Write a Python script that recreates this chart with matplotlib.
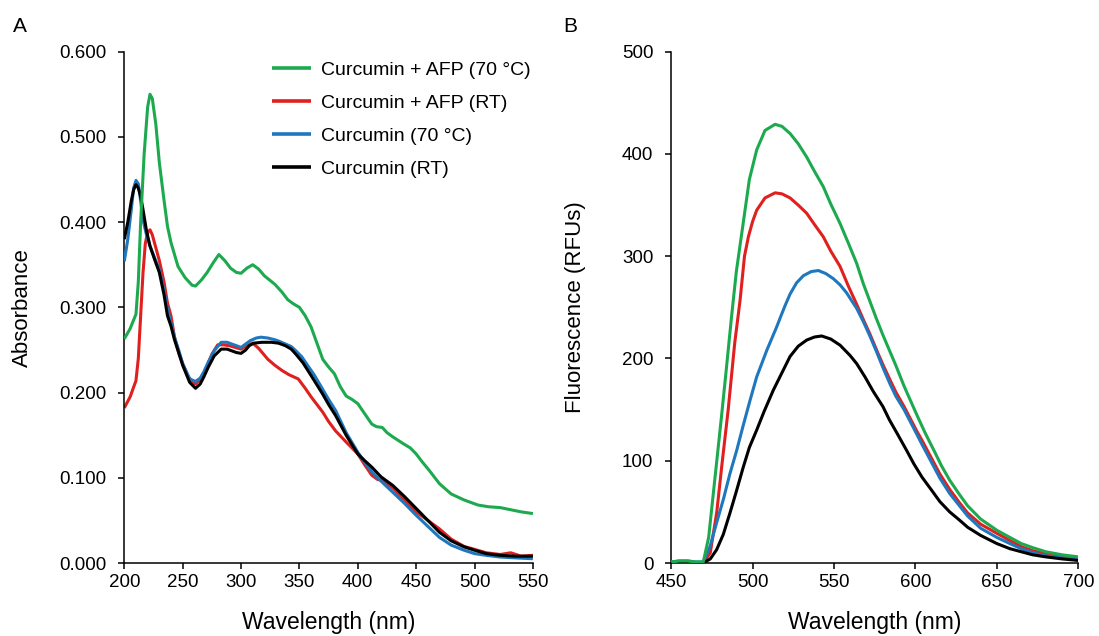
import matplotlib
matplotlib.use("Agg")
import matplotlib.pyplot as plt

plt.rcParams['font.family'] = ['Liberation Sans', 'DejaVu Sans']

# --- A: absorbance spectra ---
a_green_x = [200, 205, 210, 212, 214, 217, 220, 222, 224, 227, 230, 234, 237, 240, 246, 252, 258, 261,
             266, 271, 276, 281, 286, 291, 296, 300, 305, 310, 315, 320, 329, 335, 340, 345, 350, 355,
             360, 365, 370, 375, 380, 385, 390, 395, 400, 406, 412, 416, 421, 425, 430, 439, 445, 450,
             455, 461, 470, 480, 491, 503, 512, 522, 531, 540, 550]
a_green_y = [0.263, 0.275, 0.292, 0.330, 0.400, 0.480, 0.535, 0.550, 0.545, 0.515, 0.470, 0.426, 0.395,
             0.376, 0.348, 0.335, 0.326, 0.325, 0.332, 0.341, 0.352, 0.362, 0.355, 0.346, 0.341, 0.340,
             0.346, 0.350, 0.345, 0.337, 0.327, 0.318, 0.309, 0.304, 0.300, 0.290, 0.277, 0.258, 0.239,
             0.230, 0.222, 0.207, 0.196, 0.192, 0.187, 0.175, 0.163, 0.160, 0.159, 0.153, 0.148, 0.140,
             0.135, 0.128, 0.119, 0.109, 0.093, 0.081, 0.074, 0.068, 0.066, 0.065, 0.0625, 0.060, 0.058]

a_red_x = [200, 205, 210, 212, 214, 216, 218, 220, 222, 224, 227, 230, 234, 237, 240, 243, 247, 250,
           255, 261, 266, 270, 275, 280, 285, 290, 295, 300, 305, 310, 315, 323, 329, 335, 341, 349,
           355, 360, 365, 370, 375, 381, 390, 400, 406, 412, 417, 421, 430, 440, 450, 460, 470, 480,
           491, 500, 510, 522, 531, 540, 550]
a_red_y = [0.182, 0.195, 0.214, 0.240, 0.290, 0.340, 0.375, 0.388, 0.391, 0.385, 0.370, 0.355, 0.330,
           0.305, 0.290, 0.265, 0.245, 0.234, 0.218, 0.210, 0.217, 0.228, 0.245, 0.256, 0.256, 0.255,
           0.253, 0.251, 0.255, 0.258, 0.252, 0.239, 0.232, 0.226, 0.221, 0.216, 0.205, 0.195, 0.186,
           0.177, 0.166, 0.155, 0.142, 0.128, 0.115, 0.103, 0.098, 0.097, 0.088, 0.074, 0.060, 0.050,
           0.040, 0.028, 0.0195, 0.016, 0.012, 0.010, 0.012, 0.008, 0.009]

a_blue_x = [200, 203, 206, 208, 210, 212, 214, 216, 219, 222, 226, 230, 234, 237, 240, 243, 247, 250,
            256, 261, 265, 268, 272, 277, 283, 288, 292, 296, 300, 304, 308, 313, 317, 323, 329, 333,
            338, 343, 347, 352, 357, 363, 369, 375, 381, 390, 400, 406, 412, 420, 430, 440, 450, 460,
            470, 480, 491, 500, 510, 522, 535, 550]
a_blue_y = [0.354, 0.380, 0.415, 0.440, 0.449, 0.445, 0.425, 0.403, 0.385, 0.372, 0.358, 0.344, 0.320,
            0.298, 0.282, 0.265, 0.248, 0.234, 0.216, 0.213, 0.217, 0.224, 0.236, 0.249, 0.259, 0.259,
            0.257, 0.255, 0.253, 0.257, 0.261, 0.264, 0.265, 0.264, 0.262, 0.260, 0.257, 0.254, 0.249,
            0.242, 0.232, 0.220, 0.206, 0.192, 0.179, 0.153, 0.130, 0.118, 0.107, 0.096, 0.083, 0.070,
            0.056, 0.043, 0.030, 0.021, 0.015, 0.011, 0.009, 0.007, 0.006, 0.005]

a_black_x = [200, 203, 206, 208, 210, 212, 214, 216, 219, 222, 226, 230, 234, 237, 240, 243, 247, 250,
             256, 261, 265, 268, 272, 277, 283, 288, 292, 296, 300, 304, 307, 311, 318, 326, 332, 338,
             343, 347, 353, 360, 365, 370, 375, 381, 390, 400, 406, 412, 420, 425, 430, 440, 450, 460,
             470, 480, 491, 500, 510, 522, 535, 550]
a_black_y = [0.380, 0.400, 0.425, 0.438, 0.444, 0.440, 0.430, 0.415, 0.390, 0.372, 0.356, 0.341, 0.315,
             0.290, 0.278, 0.262, 0.245, 0.232, 0.212, 0.205, 0.210, 0.218, 0.230, 0.243, 0.251, 0.251,
             0.249, 0.247, 0.246, 0.250, 0.255, 0.258, 0.259, 0.259, 0.258, 0.255, 0.251, 0.245, 0.235,
             0.220, 0.209, 0.198, 0.186, 0.173, 0.150, 0.128, 0.120, 0.1125, 0.101, 0.096, 0.091, 0.078,
             0.064, 0.050, 0.036, 0.026, 0.019, 0.015, 0.011, 0.009, 0.008, 0.008]

# --- B: fluorescence spectra ---
b_green_x = [450, 455, 460, 465, 469.7, 473, 476, 478, 481, 484, 487, 490, 494, 498, 502.5, 507.6, 513.8,
             518, 523, 528, 533.2, 538, 543.4, 548, 553.7, 559, 563.9, 568, 572, 576, 580, 584, 588, 593,
             600.8, 606, 612, 616, 621, 627, 632, 640, 650, 658, 665, 672, 680, 690, 700]
b_green_y = [1, 2, 2, 1, 1, 25, 70, 100, 145, 192, 240, 285, 330, 375, 404, 423, 429, 427, 420, 410, 397,
             383, 368, 351, 332, 312, 293, 273, 256, 239, 223, 208, 193, 173, 145, 127, 108, 95, 81, 67,
             56, 43, 32, 25, 19, 15, 11, 8, 6]

b_red_x = [450, 460, 469.7, 474, 478, 481, 485, 489, 492.3, 495, 497.4, 500, 502.5, 507.6, 513.8, 518, 523,
           528, 533.2, 538, 543.4, 548, 553.7, 559, 563.9, 568, 572, 577, 580.3, 584.4, 588, 593, 600.8,
           604, 610, 615, 621, 627, 632, 640, 650, 658, 665, 672, 680, 690, 700]
b_red_y = [0, 0, 0, 10, 50, 94, 150, 215, 257, 300, 319, 334, 345, 357, 362, 361, 357, 350, 342, 331, 319,
           305, 290, 270, 253, 238, 224, 205, 193, 179, 167, 153, 129, 120, 102, 87, 72, 59, 49, 38, 29,
           22, 16, 12, 9, 6, 4]

b_blue_x = [450, 455, 460, 465, 469.7, 473.8, 478, 482, 486, 490.2, 494.3, 498.4, 502.5, 508.7, 514.8, 517,
            520, 523, 527, 531.2, 536, 540.4, 545, 549.6, 553.7, 557.8, 559.8, 563.9, 568, 572, 576,
            580.3, 584.4, 588, 593, 600.8, 604, 610, 615, 621, 627, 632, 640, 650, 658, 665, 672, 680,
            690, 700]
b_blue_y = [1, 2, 2, 1, 1, 16, 40, 62, 87, 110, 135, 159, 182, 208, 231, 240, 252, 263, 274, 281, 285, 286,
            283, 278, 272, 264, 259, 249, 236, 222, 207, 190, 175, 163, 150, 126, 116, 98, 83, 68, 56, 46,
            34, 25, 19, 14, 10, 7, 5, 3]

b_black_x = [450, 460, 469.7, 474, 477.9, 482, 486.1, 490, 494.3, 498, 502.5, 507, 512.7, 518, 523, 528,
             533.2, 538, 542.4, 548, 553.7, 559.8, 563.9, 569, 574, 580, 584, 589, 594.6, 599, 604, 610,
             615, 621, 627, 632, 640, 650, 658, 665, 672, 680, 690, 700]
b_black_y = [0, 0, 0, 4, 13, 28, 49, 70, 94, 113, 130, 148, 169, 186, 202, 212, 218, 221, 222, 219, 213,
             203, 195, 182, 168, 153, 140, 126, 110, 97, 84, 71, 60, 50, 42, 35, 27, 19, 14, 11, 8, 6, 4,
             2.5]

labels = ["Curcumin + AFP (70 °C)", "Curcumin + AFP (RT)", "Curcumin (70 °C)", "Curcumin (RT)"]
colors = ["#1DAA4F", "#E0201E", "#1F77BE", "#000000"]

W, H = 1099, 636
fig = plt.figure(figsize=(W / 100, H / 100), dpi=100)
bottom = 1 - 563 / H
height = (563 - 51.7) / H
ax_a = fig.add_axes([124.3 / W, bottom, (532.9 - 124.3) / W, height])
ax_b = fig.add_axes([671.2 / W, bottom, (1078.3 - 671.2) / W, height])

lw = 2.2
series_a = [(a_green_x, a_green_y), (a_red_x, a_red_y), (a_blue_x, a_blue_y), (a_black_x, a_black_y)]
series_b = [(b_green_x, b_green_y), (b_red_x, b_red_y), (b_blue_x, b_blue_y), (b_black_x, b_black_y)]
zorders = [5, 2, 3, 4]

handles = []
for (x, y), c, lab, z in zip(series_a, colors, labels, zorders):
    h, = ax_a.plot(x, y, color=c, lw=lw, label=lab, zorder=z, solid_capstyle='butt')
    handles.append(h)
for (x, y), c, z in zip(series_b, colors, zorders):
    ax_b.plot(x, y, color=c, lw=lw, zorder=z, solid_capstyle='butt')

for ax in (ax_a, ax_b):
    for s in ('top', 'right'):
        ax.spines[s].set_visible(False)
    for s in ('left', 'bottom'):
        ax.spines[s].set_linewidth(1.1)
    ax.tick_params(direction='out', length=4.5, width=1.1, labelsize=13.5)
    ax.tick_params(axis='y', pad=8.3)
    ax.tick_params(axis='x', pad=3.2)
    ax.set_xlabel("Wavelength (nm)", fontsize=16.5)
    ax.xaxis.set_label_coords(0.5, -0.093)

ax_a.set_xlim(200, 550)
ax_a.set_ylim(0, 0.6)
ax_a.set_xticks(range(200, 551, 50))
ax_a.set_yticks([0, 0.1, 0.2, 0.3, 0.4, 0.5, 0.6])
ax_a.set_yticklabels([f"{v:.3f}" for v in [0, 0.1, 0.2, 0.3, 0.4, 0.5, 0.6]])
ax_a.set_ylabel("Absorbance", fontsize=16)
ax_a.yaxis.set_label_coords(-0.2234, 0.5)

ax_b.set_xlim(450, 700)
ax_b.set_ylim(0, 500)
ax_b.set_xticks(range(450, 701, 50))
ax_b.set_yticks(range(0, 501, 100))
ax_b.set_ylabel("Fluorescence (RFUs)", fontsize=16)
ax_b.yaxis.set_label_coords(-0.2085, 0.5)

leg = ax_a.legend(handles=handles, loc='upper left', bbox_to_anchor=(272 / W, 1 - 61 / H),
                  bbox_transform=fig.transFigure, frameon=False, fontsize=14, borderpad=0,
                  borderaxespad=0, handlelength=2.0, handletextpad=0.51, labelspacing=0.8)
for lh in leg.get_lines():
    lh.set_linewidth(2.6)

fig.text(12.5 / W, 1 - 31.7 / H, "A", fontsize=15, va='baseline')
fig.text(563 / W, 1 - 31.7 / H, "B", fontsize=15, va='baseline')

fig.savefig("out.png", dpi=100)
